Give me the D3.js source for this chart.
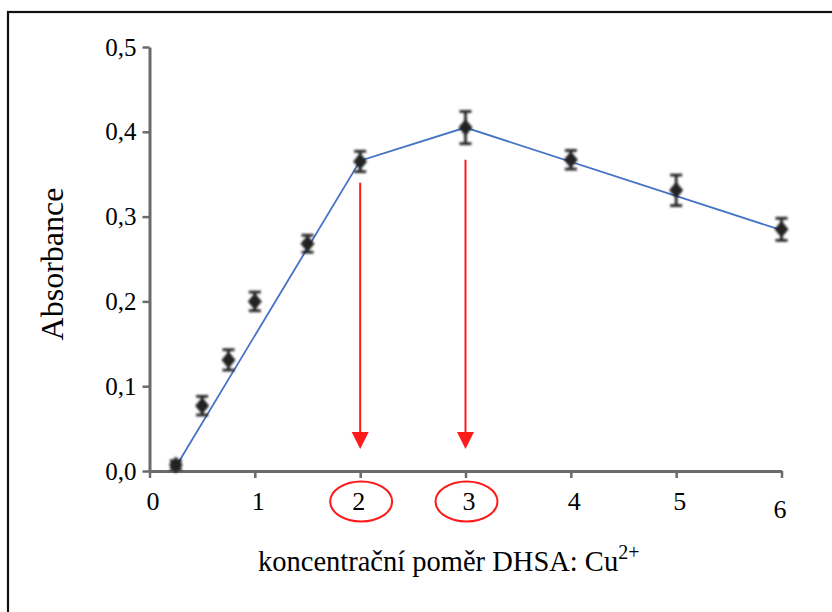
<!DOCTYPE html>
<html>
<head>
<meta charset="utf-8">
<script src="https://cdn.jsdelivr.net/npm/d3@7"></script>
<style>
  html, body { margin: 0; padding: 0; background: #fff; }
  svg { display: block; }
</style>
</head>
<body>
<svg id="chart" width="832" height="612"></svg>
<script>
// Measured absorbance vs. molar ratio DHSA : Cu2+
const ratios     = [0.25, 0.5, 0.75, 1.0, 1.5, 2.0, 3.0, 4.0, 5.0, 6.0];
const absorbance = [0.007, 0.077, 0.131, 0.200, 0.268, 0.365, 0.405, 0.367, 0.331, 0.285];
const errors     = [0.005, 0.011, 0.012, 0.011, 0.010, 0.012, 0.019, 0.011, 0.018, 0.013];

// Linear trend segments through the data
const trendX = [0.25, 2.0, 3.0, 6.0];
const trendY = [0.005, 0.366, 0.405, 0.284];

// Stoichiometric points marked with arrows
const arrowX    = [2, 3];
const arrowFrom = [0.340, 0.367];
const arrowTo   = [0.026, 0.026];

const xTicks = [0, 1, 2, 3, 4, 5, 6];
const yTicks = [0, 0.1, 0.2, 0.3, 0.4, 0.5];
const highlightedTicks = [2, 3];

const svg = d3.select("#chart");
const font = '"Liberation Serif"';
const axisGrey = "#6b6b6b";
const red = "#ff1a1a";

// outer frame
svg.append("rect")
  .attr("x", 8).attr("y", 12)
  .attr("width", 840).attr("height", 620)
  .attr("fill", "none").attr("stroke", "#111").attr("stroke-width", 2.2);

const x = d3.scaleLinear().domain([0, 6]).range([149.5, 781.5]);
const y = d3.scaleLinear().domain([0, 0.5]).range([471, 47]);

const fmt = d => d3.format(".1f")(d).replace(".", ",");

// y axis
const gy = svg.append("g")
  .attr("transform", `translate(${x(0)},0)`)
  .call(d3.axisLeft(y).tickValues(yTicks).tickFormat(fmt).tickSize(7).tickSizeOuter(0).tickPadding(6));
gy.attr("font-family", null).attr("font-size", null);
gy.select(".domain").attr("stroke", axisGrey).attr("stroke-width", 3);
gy.selectAll(".tick line").attr("stroke", axisGrey).attr("stroke-width", 2.5);
gy.selectAll(".tick text")
  .style("font-family", font).style("font-size", "25px").attr("fill", "#000");

// x axis
const gx = svg.append("g")
  .attr("transform", `translate(0,${y(0)})`)
  .call(d3.axisBottom(x).tickValues(xTicks).tickFormat(d3.format("d")).tickSize(7).tickSizeOuter(0).tickPadding(14));
gx.attr("font-family", null).attr("font-size", null);
gx.select(".domain").attr("stroke", axisGrey).attr("stroke-width", 3);
gx.selectAll(".tick line").attr("stroke", axisGrey).attr("stroke-width", 2.5);
gx.selectAll(".tick text")
  .style("font-family", font).style("font-size", "26px").attr("fill", "#000")
  .attr("dx", d => (d === 2 || d === 6) ? -2 : 3)
  .attr("dy", d => d === 6 ? "1.0em" : "0.71em");

// axis titles
svg.append("text")
  .attr("transform", `translate(63,264) rotate(-90)`)
  .attr("text-anchor", "middle")
  .style("font-family", font).style("font-size", "32px").attr("fill", "#000")
  .text("Absorbance");

const xt = svg.append("text")
  .attr("x", 258).attr("y", 571)
  .style("font-family", font).style("font-size", "28.5px").attr("fill", "#000");
xt.append("tspan").text("koncentrační poměr DHSA: Cu");
xt.append("tspan").style("font-size", "20px").attr("dy", -12).text("2+");

// trend line
const line = d3.line().x(d => x(d[0])).y(d => y(d[1]));
svg.append("path")
  .datum(d3.zip(trendX, trendY))
  .attr("d", line)
  .attr("fill", "none").attr("stroke", "#4472c4").attr("stroke-width", 1.8);

// data points with error bars (slightly soft)
const defs = svg.append("defs");
defs.append("filter").attr("id", "soft")
  .attr("x", "-50%").attr("y", "-50%").attr("width", "200%").attr("height", "200%")
  .append("feGaussianBlur").attr("stdDeviation", 1.1);

const pts = d3.zip(ratios, absorbance, errors);
const gp = svg.append("g").attr("filter", "url(#soft)");
const capW = 6;
const ink = "#222";
const p = gp.selectAll("g.pt").data(pts).join("g").attr("class", "pt");
p.append("line")
  .attr("x1", d => x(d[0])).attr("x2", d => x(d[0]))
  .attr("y1", d => y(d[1] + d[2])).attr("y2", d => y(d[1] - d[2]))
  .attr("stroke", ink).attr("stroke-width", 2.8);
p.append("line")
  .attr("x1", d => x(d[0]) - capW).attr("x2", d => x(d[0]) + capW)
  .attr("y1", d => y(d[1] + d[2])).attr("y2", d => y(d[1] + d[2]))
  .attr("stroke", ink).attr("stroke-width", 2.8);
p.append("line")
  .attr("x1", d => x(d[0]) - capW).attr("x2", d => x(d[0]) + capW)
  .attr("y1", d => y(d[1] - d[2])).attr("y2", d => y(d[1] - d[2]))
  .attr("stroke", ink).attr("stroke-width", 2.8);
p.append("path")
  .attr("transform", d => `translate(${x(d[0])},${y(d[1])})`)
  .attr("d", "M0,-8.5L7,0L0,8.5L-7,0Z")
  .attr("fill", ink);

// red arrows
const arrows = d3.zip(arrowX, arrowFrom, arrowTo);
const ga = svg.append("g");
ga.selectAll("line").data(arrows).join("line")
  .attr("x1", d => x(d[0])).attr("x2", d => x(d[0]))
  .attr("y1", d => y(d[1])).attr("y2", d => y(d[2]) - 14)
  .attr("stroke", red).attr("stroke-width", 2);
ga.selectAll("path").data(arrows).join("path")
  .attr("transform", d => `translate(${x(d[0])},${y(d[2])})`)
  .attr("d", "M0,0L-8.5,-17L8.5,-17Z")
  .attr("fill", red);

// red ellipses around the highlighted ratios
svg.append("g").selectAll("ellipse").data(highlightedTicks).join("ellipse")
  .attr("cx", d => x(d) + 1).attr("cy", 501.5)
  .attr("rx", 31).attr("ry", 20)
  .attr("fill", "none").attr("stroke", red).attr("stroke-width", 2);
</script>
</body>
</html>
